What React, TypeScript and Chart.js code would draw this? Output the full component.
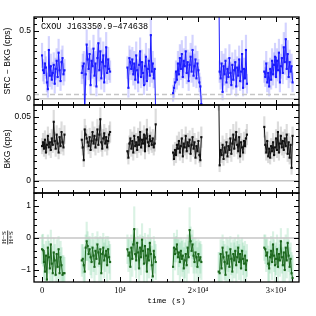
import React, { useEffect, useRef } from "react";
import { Chart, registerables } from "chart.js";

Chart.register(...registerables);

// ---------- data ----------
const SEG_START = [0, 5100, 10950, 16800, 22650, 28500];
const SEG_LEN = [24, 30, 30, 30, 30, 30];
const BIN = 125;
const X_MIN = -1030;
const X_MAX = 32950;

const X_TICK_VALUES = [0, 10000, 20000, 30000];
const X_TICK_LABELS = ["0", "10\u2074", "2\u00d710\u2074", "3\u00d710\u2074"];

const SRC = [
  0.32, 0.21, 0.19, 0.26, 0.23, 0.12, 0.07, 0.36, 0.17, 0.24, 0.14, 0.19, 0.25, 0.11, 0.22, 0.28, 0.16, 0.34, 0.21, 0.13, 0.27, 0.30, 0.18, 0.21,
  0.19, 0.24, 0.26, -0.12, 0.18, 0.40, 0.29, 0.22, 0.33, 0.10, 0.28, 0.24, 0.37, 0.17, 0.26, 0.09, 0.30, 0.41, 0.21, 0.35, 0.15, 0.27, 0.32, 0.12, 0.24, 0.38, 0.19, 0.29, 0.22, 0.20,
  0.23, 0.08, 0.30, 0.27, 0.22, 0.29, 0.18, 0.26, 0.14, 0.32, 0.21, 0.12, 0.25, 0.35, 0.16, 0.27, 0.19, 0.10, 0.24, 0.31, 0.13, 0.22, 0.28, 0.17, 0.47, 0.20, 0.26, 0.15, 0.22, -0.12,
  0.04, 0.08, 0.12, 0.20, 0.14, 0.26, 0.18, 0.30, 0.22, 0.33, 0.16, 0.28, 0.24, 0.35, 0.19, 0.27, 0.13, 0.25, 0.31, 0.20, 0.36, 0.17, 0.24, 0.29, 0.15, 0.26, 0.21, 0.12, 0.09, -0.04,
  0.95, 0.20, 0.15, 0.26, 0.05, 0.24, 0.18, 0.28, 0.12, 0.22, 0.16, 0.30, 0.19, 0.10, 0.25, 0.14, 0.21, 0.27, 0.09, 0.23, 0.17, 0.29, 0.13, 0.20, 0.33, 0.08, 0.22, 0.15, 0.36, 0.11,
  0.20, 0.16, 0.26, 0.12, 0.19, 0.09, 0.22, 0.14, 0.28, 0.18, 0.25, 0.31, 0.16, 0.28, 0.21, 0.34, 0.12, 0.24, 0.30, 0.19, 0.38, 0.27, 0.44, 0.22, 0.33, 0.16, 0.27, 0.20, 0.24, 0.12,
];
const SRC_ERR = [
  0.09, 0.08, 0.08, 0.09, 0.08, 0.07, 0.06, 0.10, 0.08, 0.09, 0.07, 0.08, 0.09, 0.07, 0.08, 0.09, 0.07, 0.10, 0.08, 0.07, 0.09, 0.09, 0.08, 0.08,
  0.08, 0.09, 0.09, 0.06, 0.08, 0.11, 0.09, 0.08, 0.10, 0.07, 0.09, 0.09, 0.10, 0.08, 0.09, 0.07, 0.10, 0.11, 0.08, 0.10, 0.08, 0.09, 0.10, 0.07, 0.09, 0.11, 0.08, 0.09, 0.08, 0.08,
  0.08, 0.07, 0.09, 0.09, 0.08, 0.09, 0.08, 0.09, 0.07, 0.10, 0.08, 0.07, 0.09, 0.10, 0.08, 0.09, 0.08, 0.07, 0.09, 0.10, 0.07, 0.08, 0.09, 0.08, 0.12, 0.08, 0.09, 0.07, 0.08, 0.06,
  0.06, 0.07, 0.07, 0.08, 0.07, 0.09, 0.08, 0.10, 0.08, 0.10, 0.08, 0.09, 0.09, 0.11, 0.08, 0.09, 0.07, 0.09, 0.10, 0.08, 0.11, 0.08, 0.09, 0.10, 0.07, 0.09, 0.08, 0.07, 0.07, 0.06,
  0.20, 0.08, 0.08, 0.09, 0.06, 0.09, 0.08, 0.09, 0.07, 0.08, 0.08, 0.10, 0.08, 0.07, 0.09, 0.07, 0.08, 0.09, 0.07, 0.08, 0.08, 0.10, 0.07, 0.08, 0.10, 0.06, 0.08, 0.07, 0.11, 0.07,
  0.08, 0.07, 0.09, 0.07, 0.08, 0.07, 0.08, 0.07, 0.09, 0.08, 0.09, 0.10, 0.08, 0.09, 0.08, 0.10, 0.07, 0.09, 0.10, 0.08, 0.11, 0.09, 0.12, 0.08, 0.10, 0.08, 0.09, 0.08, 0.09, 0.07,
];

const BKG = [
  0.027, 0.030, 0.025, 0.032, 0.022, 0.028, 0.035, 0.026, 0.030, 0.024, 0.033, 0.028, 0.046, 0.031, 0.025, 0.036, 0.029, 0.022, 0.034, 0.027, 0.038, 0.030, 0.026, 0.036,
  0.032, 0.026, 0.016, 0.040, 0.036, 0.033, 0.030, 0.027, 0.034, 0.024, 0.031, 0.038, 0.029, 0.035, 0.026, 0.032, 0.040, 0.028, 0.036, 0.048, 0.030, 0.025, 0.033, 0.037, 0.029, 0.034, 0.026, 0.031, 0.036, 0.038,
  0.023, 0.018, 0.029, 0.033, 0.025, 0.031, 0.022, 0.035, 0.027, 0.030, 0.024, 0.034, 0.028, 0.038, 0.026, 0.032, 0.029, 0.036, 0.023, 0.033, 0.040, 0.030, 0.027, 0.035, 0.031, 0.028, 0.033, 0.026, 0.029, 0.044,
  0.022, 0.017, 0.024, 0.020, 0.028, 0.025, 0.031, 0.022, 0.027, 0.033, 0.019, 0.029, 0.026, 0.035, 0.023, 0.030, 0.027, 0.032, 0.021, 0.028, 0.034, 0.025, 0.030, 0.018, 0.027, 0.023, 0.031, 0.020, 0.016, 0.034,
  0.075, 0.012, 0.024, 0.020, 0.028, 0.017, 0.026, 0.022, 0.030, 0.019, 0.027, 0.024, 0.033, 0.021, 0.029, 0.036, 0.025, 0.032, 0.038, 0.028, 0.023, 0.034, 0.019, 0.030, 0.026, 0.022, 0.031, 0.027, 0.033, 0.036,
  0.042, 0.028, 0.022, 0.031, 0.019, 0.025, 0.018, 0.027, 0.023, 0.030, 0.020, 0.026, 0.033, 0.024, 0.038, 0.022, 0.029, 0.035, 0.026, 0.031, 0.024, 0.033, 0.027, 0.036, 0.021, 0.030, 0.018, 0.028, 0.010, 0.035,
];
const BKG_ERR = [
  0.006, 0.007, 0.006, 0.007, 0.005, 0.006, 0.007, 0.006, 0.007, 0.006, 0.007, 0.006, 0.009, 0.007, 0.006, 0.007, 0.006, 0.005, 0.007, 0.006, 0.008, 0.007, 0.006, 0.007,
  0.007, 0.006, 0.005, 0.008, 0.007, 0.007, 0.006, 0.006, 0.007, 0.006, 0.007, 0.008, 0.006, 0.007, 0.006, 0.007, 0.008, 0.006, 0.007, 0.009, 0.007, 0.006, 0.007, 0.007, 0.006, 0.007, 0.006, 0.007, 0.007, 0.008,
  0.006, 0.005, 0.006, 0.007, 0.006, 0.007, 0.006, 0.007, 0.006, 0.007, 0.006, 0.007, 0.006, 0.008, 0.006, 0.007, 0.006, 0.007, 0.006, 0.007, 0.008, 0.007, 0.006, 0.007, 0.007, 0.006, 0.007, 0.006, 0.006, 0.012,
  0.006, 0.005, 0.006, 0.006, 0.007, 0.006, 0.007, 0.006, 0.006, 0.007, 0.005, 0.007, 0.006, 0.007, 0.006, 0.007, 0.006, 0.007, 0.006, 0.006, 0.007, 0.006, 0.007, 0.005, 0.006, 0.006, 0.007, 0.006, 0.005, 0.008,
  0.020, 0.005, 0.006, 0.006, 0.007, 0.005, 0.006, 0.006, 0.007, 0.005, 0.006, 0.006, 0.007, 0.006, 0.007, 0.008, 0.006, 0.007, 0.008, 0.007, 0.006, 0.007, 0.005, 0.007, 0.006, 0.006, 0.007, 0.006, 0.007, 0.008,
  0.008, 0.007, 0.006, 0.007, 0.005, 0.006, 0.005, 0.006, 0.006, 0.007, 0.005, 0.006, 0.007, 0.006, 0.008, 0.006, 0.007, 0.007, 0.006, 0.007, 0.006, 0.007, 0.006, 0.008, 0.006, 0.007, 0.005, 0.006, 0.005, 0.007,
];

const HR = [
  -0.35, -0.38, -0.75, -1.05, -0.55, -1.30, -0.30, -0.60, -0.95, -0.20, -0.80, -1.10, -0.45, -0.70, -1.15, -0.50, -0.90, -0.35, -1.10, -0.60, -0.85, -1.15, -1.10, -1.10,
  -0.70, -0.65, -0.85, -1.05, -0.30, -0.10, -0.25, -0.50, -0.35, -0.60, -0.75, -0.30, -0.55, -0.90, -0.40, -0.65, -0.20, -0.45, -0.80, -0.35, -1.10, -0.50, -0.30, -0.70, -0.55, -0.40, -0.85, -0.35, -0.60, -0.75,
  -0.35, -0.55, -0.45, -0.90, -0.30, -0.65, -0.20, 0.28, -0.50, -0.70, -0.15, -0.45, -0.95, -0.30, -0.60, -0.05, -0.40, -0.80, -0.25, -0.55, -1.05, -0.35, -0.70, -0.15, -0.50, -0.85, -1.20, -0.40, -0.60, -0.75,
  -0.90, -0.30, -0.50, -0.35, -0.20, -0.60, -0.45, -0.75, -0.40, -0.65, -0.55, -0.95, -0.70, -0.50, -0.85, -0.30, -0.60, 0.25, -0.10, -0.40, -0.20, -0.55, -0.75, -0.45, -0.60, -0.90, -0.50, -0.70, -0.60, -0.75,
  -1.05, -1.10, -0.50, -0.95, -0.30, -0.60, -0.75, -1.15, -0.45, -0.80, -0.55, -0.90, -0.35, -0.65, -1.05, -0.50, -0.70, -0.40, -0.85, -0.60, -0.30, -0.75, -0.50, -0.95, -0.40, -0.65, -0.80, -0.55, -1.00, -0.70,
  -0.30, -0.35, -0.55, -0.45, -0.80, -0.95, -0.60, -0.40, -0.75, -0.20, -0.55, -0.85, -0.65, -0.35, -0.90, -0.50, -0.70, -0.10, -0.60, -0.85, -0.45, -1.00, -0.30, -0.70, -0.15, -0.55, -0.90, -0.65, -1.10, -1.25,
];
const HR_ERR = [
  0.45, 0.50, 0.55, 0.60, 0.45, 0.70, 0.40, 0.50, 0.60, 0.45, 0.55, 0.65, 0.45, 0.50, 0.60, 0.45, 0.55, 0.40, 0.65, 0.50, 0.55, 0.60, 0.55, 0.50,
  0.50, 0.45, 0.55, 0.65, 0.40, 0.60, 0.45, 0.50, 0.40, 0.55, 0.50, 0.45, 0.50, 0.60, 0.45, 0.50, 0.40, 0.45, 0.55, 0.40, 0.65, 0.50, 0.45, 0.55, 0.50, 0.45, 0.60, 0.40, 0.50, 0.55,
  0.45, 0.50, 0.45, 0.60, 0.40, 0.55, 0.45, 0.70, 0.50, 0.55, 0.45, 0.50, 0.60, 0.40, 0.55, 0.50, 0.45, 0.60, 0.40, 0.50, 0.65, 0.45, 0.55, 0.45, 0.50, 0.60, 0.70, 0.45, 0.50, 0.55,
  0.60, 0.45, 0.50, 0.40, 0.45, 0.55, 0.45, 0.60, 0.40, 0.55, 0.50, 0.65, 0.55, 0.45, 0.60, 0.40, 0.50, 0.70, 0.45, 0.50, 0.45, 0.55, 0.60, 0.45, 0.50, 0.60, 0.45, 0.55, 0.50, 0.55,
  0.60, 0.65, 0.45, 0.60, 0.40, 0.50, 0.55, 0.65, 0.45, 0.55, 0.50, 0.60, 0.40, 0.50, 0.65, 0.45, 0.55, 0.40, 0.60, 0.50, 0.40, 0.55, 0.45, 0.60, 0.40, 0.50, 0.55, 0.45, 0.60, 0.50,
  0.40, 0.45, 0.50, 0.45, 0.55, 0.60, 0.50, 0.45, 0.55, 0.40, 0.50, 0.60, 0.50, 0.45, 0.60, 0.45, 0.50, 0.40, 0.50, 0.55, 0.45, 0.65, 0.40, 0.55, 0.45, 0.50, 0.60, 0.50, 0.65, 0.70,
];

const SRC_TICKS = [0, 0.5];
const SRC_TICK_LABELS = ["0", "0.5"];
const BKG_TICKS = [0, 0.05];
const BKG_TICK_LABELS = ["0", "0.05"];
const HR_TICKS = [-1, 0, 1];
const HR_TICK_LABELS = ["\u22121", "0", "1"];

const SOURCE_NAME = "CXOU J163350.9\u2212474638";

// ---------- helpers ----------
type RefLine = { y: number; dash?: number[] };
type Panel = {
  values: number[];
  errors: number[];
  yMin: number;
  yMax: number;
  yMinor: number;
  yMajor: number;
  tickVals: number[];
  tickLabels: string[];
  title: string;
  fraction?: boolean;
  name?: string;
  color: string;
  errColor: string;
  refLines: RefLine[];
  padTop: number;
  padBottom: number;
  showX: boolean;
};

const PANELS: Panel[] = [
  {
    values: SRC, errors: SRC_ERR, yMin: -0.047, yMax: 0.604, yMinor: 0.05, yMajor: 0.5,
    tickVals: SRC_TICKS, tickLabels: SRC_TICK_LABELS, title: "SRC \u2212 BKG (cps)", name: SOURCE_NAME,
    color: "#1a1aff", errColor: "rgba(110,110,255,0.3)",
    refLines: [{ y: 0 }, { y: 0.03, dash: [5, 3] }], padTop: 17, padBottom: 211, showX: false,
  },
  {
    values: BKG, errors: BKG_ERR, yMin: -0.0096, yMax: 0.0591, yMinor: 0.005, yMajor: 0.05,
    tickVals: BKG_TICKS, tickLabels: BKG_TICK_LABELS, title: "BKG (cps)",
    color: "#111111", errColor: "rgba(120,120,120,0.26)",
    refLines: [{ y: 0 }], padTop: 105, padBottom: 123, showX: false,
  },
  {
    values: HR, errors: HR_ERR, yMin: -1.375, yMax: 1.41, yMinor: 0.2, yMajor: 1,
    tickVals: HR_TICKS, tickLabels: HR_TICK_LABELS, title: "", fraction: true,
    color: "#1b661b", errColor: "rgba(70,190,120,0.2)",
    refLines: [{ y: 0 }], padTop: 193, padBottom: 0, showX: true,
  },
];

function labelFor(v: number, vals: number[], labels: string[]) {
  for (let i = 0; i < vals.length; i++) {
    if (Math.abs(v - vals[i]) < 1e-7 * Math.max(1, Math.abs(vals[i]))) return labels[i];
  }
  return "";
}

const frameTicks = {
  id: "frameTicks",
  afterDraw(chart: any, _args: any, o: any) {
    const { ctx, chartArea: a } = chart;
    const xs = chart.scales.x;
    const ys = chart.scales.y;
    ctx.save();
    ctx.strokeStyle = "#000";
    ctx.lineWidth = 1;
    const drawX = (step: number, major: number) => {
      const k0 = Math.ceil(xs.min / step);
      const k1 = Math.floor(xs.max / step);
      for (let k = k0; k <= k1; k++) {
        const v = k * step;
        const isMaj = Math.abs(v / major - Math.round(v / major)) < 1e-6;
        const len = isMaj ? 5 : 3;
        const px = Math.round(xs.getPixelForValue(v)) + 0.5;
        ctx.beginPath();
        ctx.moveTo(px, a.top);
        ctx.lineTo(px, a.top + len);
        ctx.moveTo(px, a.bottom);
        ctx.lineTo(px, a.bottom - len);
        ctx.stroke();
      }
    };
    const drawY = (step: number, major: number) => {
      const k0 = Math.ceil(ys.min / step - 1e-9);
      const k1 = Math.floor(ys.max / step + 1e-9);
      for (let k = k0; k <= k1; k++) {
        const v = k * step;
        const isMaj = Math.abs(v / major - Math.round(v / major)) < 1e-6;
        const len = isMaj ? 5 : 3;
        const py = Math.round(ys.getPixelForValue(v)) + 0.5;
        ctx.beginPath();
        ctx.moveTo(a.left, py);
        ctx.lineTo(a.left + len, py);
        ctx.moveTo(a.right, py);
        ctx.lineTo(a.right - len, py);
        ctx.stroke();
      }
    };
    drawX(2000, 10000);
    drawY(o.yMinor, o.yMajor);
    ctx.lineWidth = 1.3;
    ctx.strokeRect(a.left, a.top, a.right - a.left, a.bottom - a.top);

    ctx.fillStyle = "#000";
    if (o.name) {
      ctx.font = "8.5px 'Liberation Mono', monospace";
      ctx.textAlign = "left";
      ctx.textBaseline = "middle";
      ctx.fillText(o.name, a.left + 7, a.top + 10);
    }
    if (o.fraction) {
      const cx = 7.5;
      const cy = (a.top + a.bottom) / 2;
      ctx.translate(cx, cy);
      ctx.rotate(-Math.PI / 2);
      ctx.font = "7px 'Liberation Serif', serif";
      ctx.textAlign = "center";
      ctx.textBaseline = "middle";
      ctx.fillText("H\u2212S", 0, -3.3);
      ctx.fillText("H+S", 0, 3.6);
      ctx.lineWidth = 0.8;
      ctx.beginPath();
      ctx.moveTo(-7, 0.2);
      ctx.lineTo(7, 0.2);
      ctx.stroke();
    }
    ctx.restore();
  },
};

function buildConfig(p: Panel): any {
  const line: any[] = [];
  const bars: any[] = [];
  let k = 0;
  SEG_START.forEach((s, si) => {
    for (let j = 0; j < SEG_LEN[si]; j++, k++) {
      const t = s + j * BIN;
      const v = p.values[k];
      const e = p.errors[k];
      line.push({ x: t, y: v });
      bars.push({ x: t, y: [v - e, v + e] });
    }
    line.push({ x: s + SEG_LEN[si] * BIN, y: null });
  });

  const datasets: any[] = [
    {
      type: "bar",
      data: bars,
      backgroundColor: p.errColor,
      borderWidth: 0,
      barThickness: 1.5,
      order: 3,
    },
    ...p.refLines.map((r) => ({
      type: "line",
      data: [{ x: X_MIN, y: r.y }, { x: X_MAX, y: r.y }],
      borderColor: "#c6c6c6",
      borderWidth: 1.5,
      borderDash: r.dash || [],
      pointRadius: 0,
      order: 2,
    })),
    {
      type: "line",
      data: line,
      borderColor: p.color,
      borderWidth: 1,
      pointStyle: "rect",
      pointRadius: 1.5,
      pointBackgroundColor: p.color,
      pointBorderWidth: 0,
      spanGaps: false,
      order: 1,
    },
  ];

  return {
    type: "line",
    data: { datasets },
    plugins: [frameTicks],
    options: {
      animation: false,
      responsive: false,
      devicePixelRatio: 1,
      events: [],
      layout: { padding: { left: 0, right: 17, top: p.padTop, bottom: p.padBottom } },
      plugins: {
        legend: { display: false },
        tooltip: { enabled: false },
        frameTicks: { yMinor: p.yMinor, yMajor: p.yMajor, name: p.name, fraction: !!p.fraction },
      },
      scales: {
        x: {
          type: "linear",
          min: X_MIN,
          max: X_MAX,
          bounds: "data",
          offset: false,
          display: p.showX,
          grid: { display: false, drawTicks: false },
          border: { display: false },
          afterBuildTicks: (s: any) => {
            s.ticks = X_TICK_VALUES.map((v) => ({ value: v }));
          },
          ticks: {
            display: true,
            autoSkip: false,
            maxRotation: 0,
            minRotation: 0,
            padding: 4,
            color: "#000",
            font: { family: "'Liberation Serif', serif", size: 8.5 },
            callback: (v: number) => labelFor(v, X_TICK_VALUES, X_TICK_LABELS),
          },
          title: {
            display: true,
            text: "time (s)",
            color: "#000",
            font: { family: "'Liberation Mono', monospace", size: 8 },
            padding: { top: 0, bottom: 10 },
          },
          afterFit: (s: any) => {
            s.height = p.showX ? 34 : 0;
          },
        },
        y: {
          type: "linear",
          min: p.yMin,
          max: p.yMax,
          bounds: "data",
          grid: { display: false, drawTicks: false },
          border: { display: false },
          afterBuildTicks: (s: any) => {
            s.ticks = p.tickVals.map((v) => ({ value: v }));
          },
          ticks: {
            autoSkip: false,
            padding: 3,
            color: "#000",
            font: { family: "'Liberation Sans', sans-serif", size: 8.5 },
            callback: (v: number) => labelFor(v, p.tickVals, p.tickLabels),
          },
          title: {
            display: !!p.title,
            text: p.title,
            color: "#000",
            font: { family: "'Liberation Sans', sans-serif", size: 8.5 },
            padding: { top: 3, bottom: 0 },
          },
          afterFit: (s: any) => {
            s.width = 34;
          },
        },
      },
    },
  };
}

export default function App() {
  const r1 = useRef<HTMLCanvasElement>(null);
  const r2 = useRef<HTMLCanvasElement>(null);
  const r3 = useRef<HTMLCanvasElement>(null);

  useEffect(() => {
    const refs = [r1, r2, r3];
    const charts = PANELS.map((p, i) => new Chart(refs[i].current as HTMLCanvasElement, buildConfig(p)));
    return () => charts.forEach((c) => c.destroy());
  }, []);

  return (
    <div style={{ position: "absolute", left: 0, top: 0, width: 316, height: 316, background: "#fff" }}>
      {[r1, r2, r3].map((r, i) => (
        <canvas
          key={i}
          ref={r}
          width={316}
          height={316}
          style={{ position: "absolute", left: 0, top: 0, width: 316, height: 316 }}
        />
      ))}
    </div>
  );
}
